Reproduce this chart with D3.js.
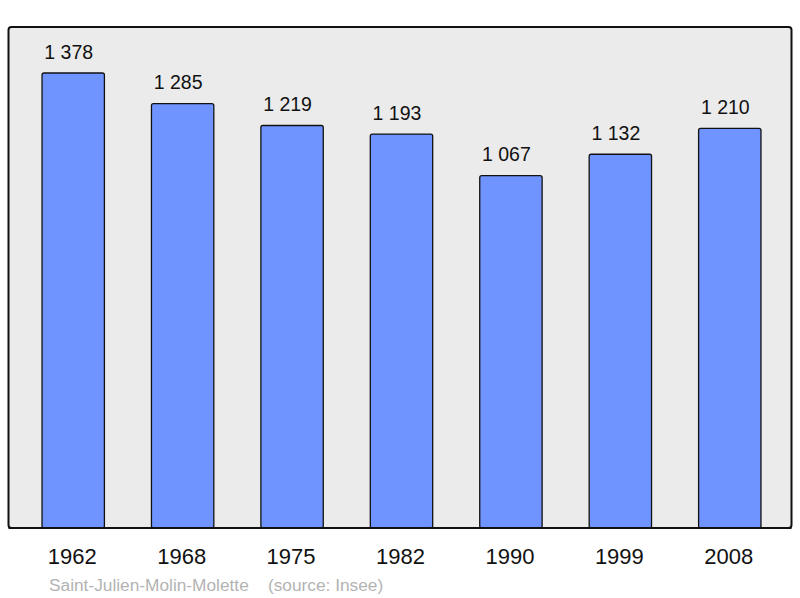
<html>
<head>
    <script type="text/javascript" src="https://cdnjs.cloudflare.com/ajax/libs/d3/7.8.5/d3.min.js"></script>
    <style>
        body { margin: 0; background: #fff; }
        text { font-family: "Liberation Sans", Arial, sans-serif; }
    </style>
</head>
<body>
    <div id="viz"></div>
    <script type="text/javascript">

    var years = ["1962", "1968", "1975", "1982", "1990", "1999", "2008"];
    var population = [1378, 1285, 1219, 1193, 1067, 1132, 1210];
    var valueLabels = ["1 378", "1 285", "1 219", "1 193", "1 067", "1 132", "1 210"];

    var svg = d3.select("#viz")
        .append("svg")
        .attr("width", 800)
        .attr("height", 598);

    // panel
    svg.append("rect")
        .attr("x", 8.5)
        .attr("y", 27)
        .attr("width", 783)
        .attr("height", 501)
        .attr("rx", 3)
        .style("fill", "#ebebeb")
        .style("stroke", "#111")
        .style("stroke-width", 2);

    var x = d3.scaleBand()
        .domain(years)
        .range([18.5, 784.5])
        .paddingInner(0.43)
        .paddingOuter(0.215);

    var y = d3.scaleLinear()
        .domain([0, 1378])
        .range([528, 73]);

    var g = svg.append("g");

    g.selectAll("rect.bar")
        .data(population)
        .enter().append("rect")
        .attr("class", "bar")
        .attr("x", function(d, i){ return x(years[i]); })
        .attr("y", function(d){ return y(d); })
        .attr("width", x.bandwidth())
        .attr("height", function(d){ return y(0) - y(d); })
        .attr("rx", 2)
        .style("fill", "#7094ff")
        .style("stroke", "#111")
        .style("stroke-width", 1.3);

    // redraw bottom border over bar bottoms
    svg.append("line")
        .attr("x1", 8.5).attr("x2", 791.5)
        .attr("y1", 528).attr("y2", 528)
        .style("stroke", "#111")
        .style("stroke-width", 2);

    // value labels sit a little left of the bar centre, like the original
    g.selectAll("text.val")
        .data(population)
        .enter().append("text")
        .attr("class", "val")
        .attr("x", function(d, i){ return x(years[i]) + x.bandwidth() / 2 - 4.5; })
        .attr("y", function(d){ return y(d) - 14.5; })
        .attr("text-anchor", "middle")
        .style("font-size", "19.5px")
        .style("fill", "#111")
        .text(function(d, i){ return valueLabels[i]; });

    var xAxis = d3.axisBottom(x).tickSize(0).tickPadding(0);
    var ax = svg.append("g")
        .attr("transform", "translate(0,564)")
        .call(xAxis);
    ax.select(".domain").remove();
    ax.selectAll("text")
        .attr("dy", "0")
        .attr("y", 0)
        .attr("dx", "-1")
        .style("font-size", "22px")
        .style("font-family", "'Liberation Sans', Arial, sans-serif")
        .style("fill", "#111");

    svg.append("text")
        .attr("x", 49)
        .attr("y", 591)
        .style("font-size", "17.3px")
        .style("fill", "#b3b3b3")
        .attr("xml:space", "preserve")
        .text("Saint-Julien-Molin-Molette    (source: Insee)");

    </script>
</body>
</html>
